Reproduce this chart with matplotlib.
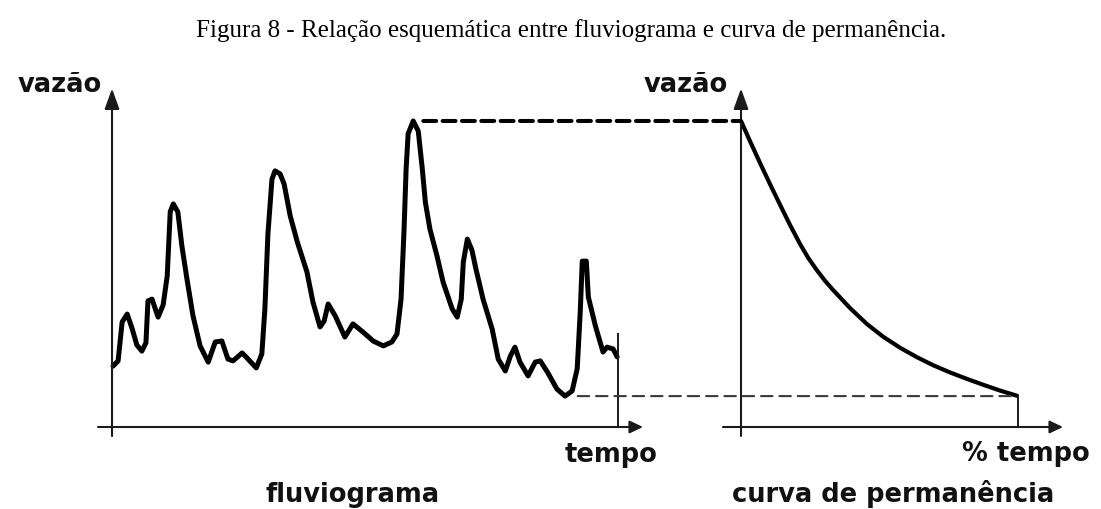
import matplotlib
matplotlib.use("Agg")
import matplotlib.pyplot as plt
from matplotlib.patches import ConnectionPatch

# fluviograma: tempo (0-100) x vazão (pico = 100)
tempo = [0.2, 1.2, 2.0, 3.0, 4.0, 4.9, 5.9, 6.7, 7.1, 7.9, 9.1, 10.1, 10.9, 11.5, 12.1,
         13.0, 13.8, 14.8, 16.0, 17.4, 19.0, 20.4, 21.7, 22.9, 23.9, 25.7, 26.7, 28.5,
         29.6, 30.2, 30.8, 31.6, 32.2, 33.2, 34.0, 35.2, 36.6, 38.5, 39.7, 41.1, 41.9,
         42.7, 44.1, 46.0, 47.6, 49.6, 51.6, 53.6, 55.3, 56.3, 57.1, 57.7, 58.1, 58.5,
         59.5, 60.5, 61.3, 61.9, 62.8, 64.2, 65.4, 67.2, 68.2, 69.0, 69.4, 70.2, 71.1,
         71.9, 73.3, 75.1, 76.3, 77.7, 78.7, 79.6, 80.6, 82.2, 83.6, 84.6, 86.0, 87.9,
         89.5, 90.9, 91.9, 92.5, 92.9, 93.7, 94.1, 95.5, 97.0, 97.8, 99.0, 99.8]
vazao = [19.9, 21.6, 34.3, 36.9, 32.0, 26.8, 24.8, 27.5, 41.2, 41.8, 35.9, 39.9, 49.3,
         70.3, 72.9, 70.3, 59.2, 48.4, 36.3, 26.5, 21.2, 27.8, 28.1, 22.2, 21.6, 24.2,
         22.5, 19.3, 23.9, 38.6, 63.1, 81.0, 83.7, 82.7, 79.4, 69.0, 60.5, 50.7, 40.8,
         32.7, 34.6, 40.2, 36.3, 29.4, 33.7, 31.0, 28.1, 26.5, 27.8, 30.4, 41.8, 64.7,
         84.3, 95.8, 100.0, 96.7, 84.3, 73.5, 64.7, 55.9, 47.4, 38.6, 35.9, 41.8, 53.9,
         61.4, 57.8, 51.6, 41.8, 32.0, 22.2, 18.3, 23.2, 26.1, 21.2, 16.7, 21.2, 21.6,
         18.0, 12.4, 10.1, 11.8, 19.0, 37.6, 54.2, 54.2, 42.5, 33.0, 24.5, 26.1, 25.5,
         22.9]

# curva de permanência: % do tempo x vazão
perc = [0, 3.2, 6.9, 10.5, 14.1, 17.7, 21.3, 24.3, 27.4, 30.3, 33.2, 39.4, 45.5, 51.3,
        57.4, 63.5, 69.3, 75.5, 81.6, 87.4, 93.5, 100]
vazao_perm = [100, 93.5, 86.2, 79.3, 72.6, 66.0, 59.8, 55.2, 51.2, 47.8, 44.8, 38.8,
              33.6, 29.5, 25.9, 22.8, 20.2, 17.8, 15.7, 13.8, 11.9, 10.1]

titulo = "Figura 8 - Relação esquemática entre fluviograma e curva de permanência."

W, H = 1101, 510
fig = plt.figure(figsize=(W / 100, H / 100), dpi=100, facecolor="white")


def px_axes(x0, x1, y0, y1):
    return fig.add_axes([x0 / W, 1 - y1 / H, (x1 - x0) / W, (y1 - y0) / H])


ax1 = px_axes(98, 643, 88, 437)
ax1.set_xlim(-2.77, 104.9)
ax1.set_ylim(-2.94, 111.1)
ax2 = px_axes(723, 1063, 88, 437)
ax2.set_xlim(-6.5, 116.2)
ax2.set_ylim(-2.94, 111.1)

axis_col = "#1a1a1a"
for ax in (ax1, ax2):
    ax.axis("off")
    x0, x1 = ax.get_xlim()
    y0, y1 = ax.get_ylim()
    ax.annotate("", xy=(x1, 0), xytext=(x0, 0),
                arrowprops=dict(arrowstyle="-|>,head_length=0.8,head_width=0.38",
                                lw=1.5, color=axis_col, shrinkA=0, shrinkB=0,
                                mutation_scale=10))
    ax.annotate("", xy=(0, y1 - 0.5), xytext=(0, y0),
                arrowprops=dict(arrowstyle="-|>,head_length=1.25,head_width=0.45",
                                lw=1.5, color=axis_col, shrinkA=0, shrinkB=0,
                                mutation_scale=10))

# fluviograma
ax1.plot(tempo, vazao, color="black", lw=3.6, solid_joinstyle="round",
         solid_capstyle="round", clip_on=False)
ax1.plot([100, 100], [0, 30.4], color=axis_col, lw=1.4)

# curva de permanência
ax2.plot(perc, vazao_perm, color="black", lw=3.0, solid_joinstyle="round",
         solid_capstyle="butt", clip_on=False)
ax2.plot([100, 100], [0, min(vazao_perm)], color=axis_col, lw=1.4)

# ligações tracejadas
qmax, qmin = max(vazao), min(vazao)
i_max = vazao.index(qmax)
i_min = vazao.index(qmin)
fig.add_artist(ConnectionPatch(xyA=(tempo[i_max] + 2, qmax), coordsA=ax1.transData,
                               xyB=(0, qmax), coordsB=ax2.transData,
                               color="black", lw=2.9, linestyle=(0, (3.2, 1.6))))
fig.add_artist(ConnectionPatch(xyA=(tempo[i_min] + 2.5, qmin), coordsA=ax1.transData,
                               xyB=(99, qmin), coordsB=ax2.transData,
                               color="#3a3a3a", lw=1.5, linestyle=(0, (5.5, 3.3))))

# textos
lab = dict(ha="center", va="baseline", fontsize=18.5, fontweight="bold",
           family="DejaVu Sans", color="#111111")
fig.text(60 / W, 1 - 92 / H, "vazão", **lab)
fig.text(686 / W, 1 - 92 / H, "vazão", **lab)
fig.text(611 / W, 1 - 462 / H, "tempo", **lab)
fig.text(1026 / W, 1 - 461 / H, "% tempo", **lab)
fig.text(353 / W, 1 - 502 / H, "fluviograma", **lab)
fig.text(893 / W, 1 - 502 / H, "curva de permanência", **lab)

fig.text(571 / W, 1 - 37 / H, titulo, ha="center", va="baseline", fontsize=18,
         family="Liberation Serif", color="black")

fig.savefig("out.png", dpi=100, facecolor="white")
